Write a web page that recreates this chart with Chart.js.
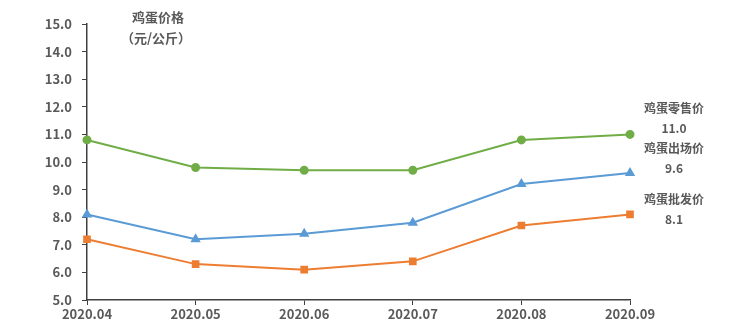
<!DOCTYPE html>
<html>
<head>
<meta charset="utf-8">
<script src="https://cdn.jsdelivr.net/npm/chart.js@4"></script>
<style>
  html, body { margin: 0; padding: 0; background: #ffffff; }
  #wrap { width: 750px; height: 328px; position: relative; }
</style>
</head>
<body>
<div id="wrap"><canvas id="eggChart"></canvas></div>
<script>
// 鸡蛋价格 2020.04 - 2020.09
const months = ['2020.04', '2020.05', '2020.06', '2020.07', '2020.08', '2020.09'];
const retailPrice = [10.8, 9.8, 9.7, 9.7, 10.8, 11.0];
const farmPrice = [8.1, 7.2, 7.4, 7.8, 9.2, 9.6];
const wholesalePrice = [7.2, 6.3, 6.1, 6.4, 7.7, 8.1];
const seriesNames = ['鸡蛋零售价', '鸡蛋出场价', '鸡蛋批发价'];
const titleLines = ['鸡蛋价格', '（元/公斤）'];

const FONT = '"Noto Sans CJK SC", "Noto Sans", sans-serif';
const TEXT = '#595959';

// draws the unit title and the end-of-line labels
const labelPlugin = {
    id: 'labels',
    afterDraw(chart) {
        const ctx = chart.ctx;
        const x = chart.scales.x;
        const y = chart.scales.y;
        ctx.save();
        ctx.fillStyle = TEXT;
        ctx.font = 'bold 13px ' + FONT;
        ctx.textAlign = 'center';
        ctx.textBaseline = 'middle';
        ctx.fillText(titleLines[0], 158, 17);
        ctx.fillText(titleLines[1], 156, 38);

        const lastX = x.getPixelForValue(months.length - 1) + 44;
        // label offset above the last point, then the value below it
        const offsets = [-26, -25, -15];
        chart.data.datasets.forEach((ds, i) => {
            const v = ds.data[ds.data.length - 1];
            const py = y.getPixelForValue(v);
            ctx.font = 'bold 12px ' + FONT;
            ctx.fillText(seriesNames[i], lastX, py + offsets[i]);
            ctx.fillText(v.toFixed(1), lastX, py + offsets[i] + 20);
        });
        ctx.restore();
    }
};

new Chart(document.getElementById('eggChart'), {
    type: 'line',
    data: {
        labels: months,
        datasets: [
            {
                label: seriesNames[0],
                data: retailPrice,
                borderColor: '#70AD47',
                backgroundColor: '#70AD47',
                pointStyle: 'circle',
                pointRadius: 3.5,
                borderWidth: 2
            },
            {
                label: seriesNames[1],
                data: farmPrice,
                borderColor: '#5B9BD5',
                backgroundColor: '#5B9BD5',
                pointStyle: 'triangle',
                pointRadius: 4,
                borderWidth: 2
            },
            {
                label: seriesNames[2],
                data: wholesalePrice,
                borderColor: '#ED7D31',
                backgroundColor: '#ED7D31',
                pointStyle: 'rect',
                pointRadius: 4,
                borderWidth: 2
            }
        ]
    },
    options: {
        responsive: true,
        maintainAspectRatio: false,
        animation: false,
        layout: { padding: { top: 24, right: 120, left: 0, bottom: 0 } },
        plugins: {
            legend: { display: false },
            tooltip: { enabled: false }
        },
        scales: {
            x: {
                offset: false,
                grid: {
                    drawOnChartArea: false,
                    tickLength: 5,
                    color: '#404040'
                },
                border: { color: '#404040', width: 1.5 },
                ticks: {
                    color: TEXT,
                    font: { family: FONT, size: 13, weight: 'bold' },
                    maxRotation: 0,
                    padding: 1
                },
                afterFit(scale) { scale.height = 28; }
            },
            y: {
                min: 5,
                max: 15,
                ticks: {
                    stepSize: 1,
                    color: TEXT,
                    font: { family: FONT, size: 13, weight: 'bold' },
                    padding: 10,
                    callback: v => v.toFixed(1)
                },
                grid: {
                    drawOnChartArea: false,
                    tickLength: 5,
                    color: '#404040'
                },
                border: { color: '#404040', width: 1.5 },
                afterFit(scale) { scale.width = 87; }
            }
        }
    },
    plugins: [labelPlugin]
});
</script>
</body>
</html>
